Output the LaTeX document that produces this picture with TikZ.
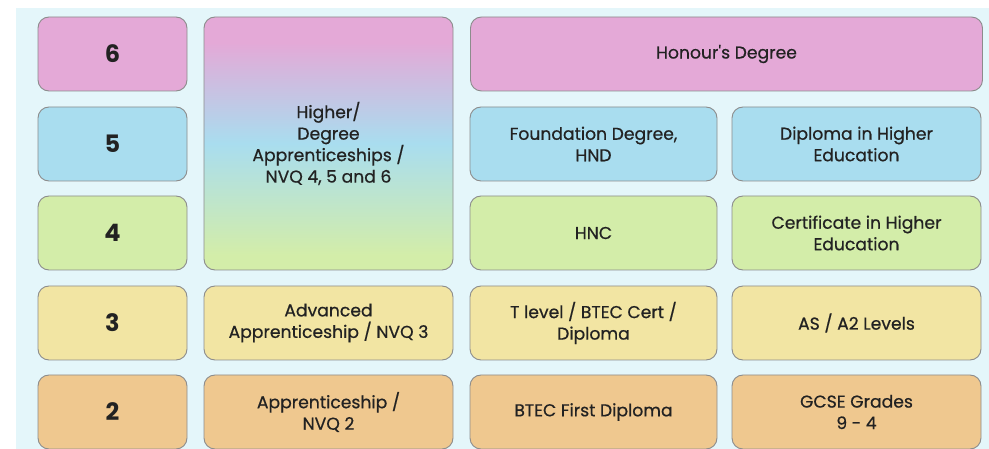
\documentclass[tikz,border=0pt]{standalone}
\usepackage{fontspec}
\setmainfont{Poppins}
\newfontfamily\medfont{Poppins}[FakeBold=0.6]
\usetikzlibrary{shadings}
\definecolor{bgc}{HTML}{E4F6FA}
\definecolor{pinkc}{HTML}{E4A9D7}
\definecolor{bluec}{HTML}{A9DDEF}
\definecolor{greenc}{HTML}{D3EDA9}
\definecolor{yellowc}{HTML}{F2E5A3}
\definecolor{orangec}{HTML}{EFC88F}
\definecolor{edgec}{HTML}{8C8C8C}
\definecolor{txtc}{HTML}{222222}
\pgfdeclareverticalshading{bigsh}{100bp}{color(0bp)=(greenc); color(28bp)=(greenc); color(50bp)=(bluec); color(70bp)=(pinkc); color(100bp)=(pinkc)}
\tikzset{
  lvl/.style={draw=edgec, line width=0.9pt, rounded corners=11pt, minimum width=149pt, minimum height=74pt, font=\fontsize{24}{26}\selectfont\bfseries, text=txtc, inner sep=0pt},
  cell/.style={draw=edgec, line width=0.9pt, rounded corners=11pt, minimum height=74pt, align=center, font=\medfont\fontsize{17.2}{21.5}\selectfont, text=txtc, inner sep=0pt},
}
\begin{document}
\begin{tikzpicture}[x=1pt,y=-1pt]
\useasboundingbox (0,0) rectangle (989,449);
\fill[white] (0,0) rectangle (989,449);
\fill[bgc] (16,8) rectangle (989,449);
% level column
\node[lvl, fill=pinkc] (l6) at (112.5,54) {6};
\node[lvl, fill=bluec] (l5) at (112.5,144) {5};
\node[lvl, fill=greenc] (l4) at (112.5,233) {4};
\node[lvl, fill=yellowc] (l3) at (112.5,323) {3};
\node[lvl, fill=orangec] (l2) at (112.5,412) {2};
% big gradient box
\path[shading=bigsh, rounded corners=11pt] (204,17) rectangle (453,270);
\node[cell, minimum width=249pt, minimum height=253pt] (app) at (328.5,143.5) {Higher/\\Degree\\Apprenticeships /\\NVQ 4, 5 and 6};
% column 2
\node[cell, fill=yellowc, minimum width=249pt] (adv) at (328.5,323) {Advanced\\Apprenticeship / NVQ 3};
\node[cell, fill=orangec, minimum width=249pt] (ap2) at (328.5,412) {Apprenticeship /\\NVQ 2};
% right part
\node[cell, fill=pinkc, minimum width=512pt] (hon) at (726.5,54) {Honour's Degree};
\node[cell, fill=bluec, minimum width=247pt] (fd) at (593.5,144) {Foundation Degree,\\HND};
\node[cell, fill=bluec, minimum width=249pt] (dhe) at (856.5,144) {Diploma in Higher\\Education};
\node[cell, fill=greenc, minimum width=247pt] (hnc) at (593.5,233) {HNC};
\node[cell, fill=greenc, minimum width=249pt] (che) at (856.5,233) {Certificate in Higher\\Education};
\node[cell, fill=yellowc, minimum width=247pt] (tl) at (593.5,323) {T level / BTEC Cert /\\Diploma};
\node[cell, fill=yellowc, minimum width=249pt] (as) at (856.5,323) {AS / A2 Levels};
\node[cell, fill=orangec, minimum width=247pt] (bf) at (593.5,412) {BTEC First Diploma};
\node[cell, fill=orangec, minimum width=249pt] (gc) at (856.5,412) {GCSE Grades\\9 - 4};
\end{tikzpicture}
\end{document}
